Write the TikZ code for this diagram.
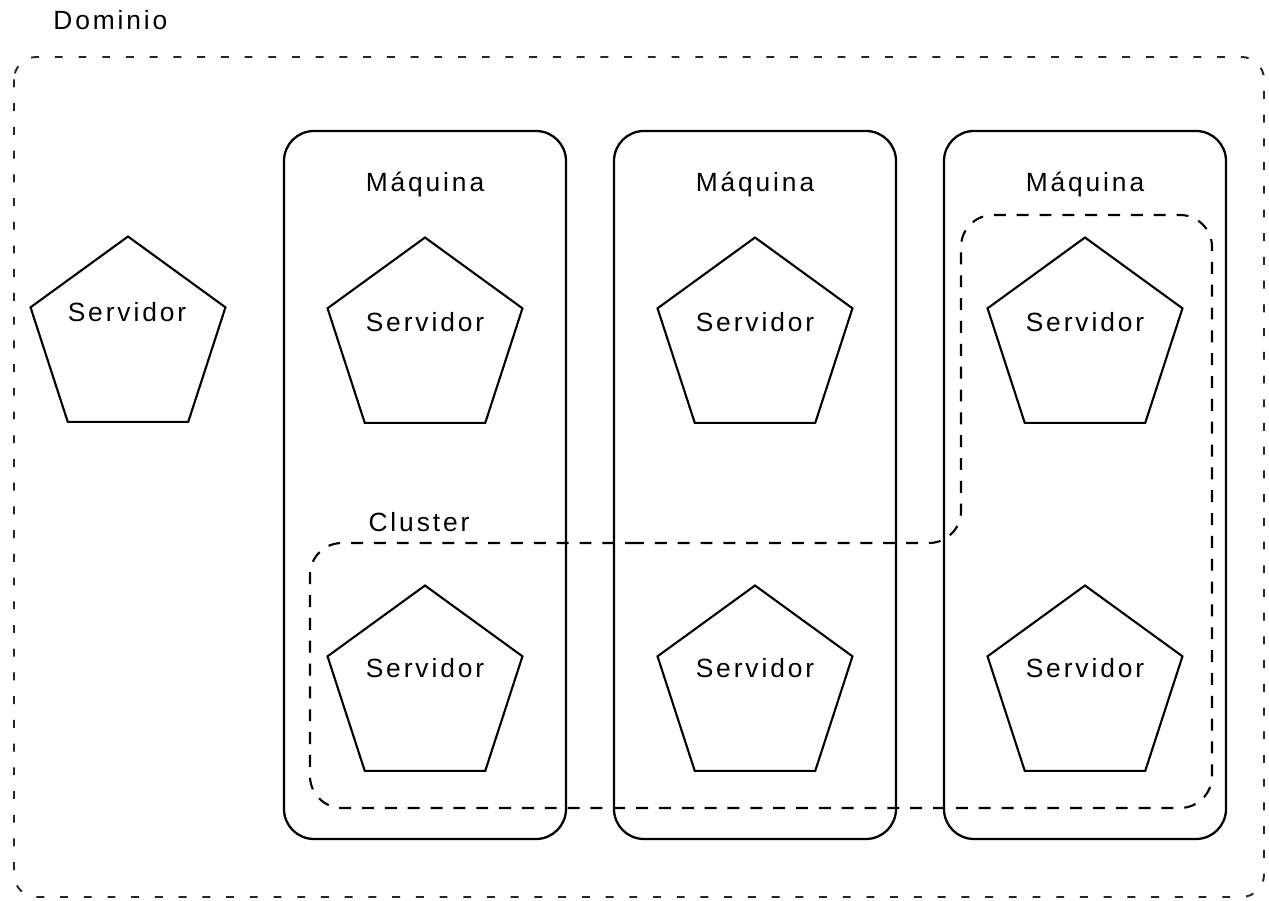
\documentclass[tikz,border=0pt]{standalone}
\usepackage{fontspec}
\setmainfont[LetterSpace=11]{Liberation Sans}
\usetikzlibrary{shapes.geometric}

\begin{document}
\begin{tikzpicture}[x=0.02cm, y=-0.02cm,
    servidor/.style={regular polygon, regular polygon sides=5, draw, line width=1.2pt, minimum size=4.1cm, inner sep=0pt},
    rotulo/.style={anchor=base, inner sep=0pt, font=\fontsize{15}{18}\selectfont},
    maquina/.style={line width=1.3pt, rounded corners=0.6cm},
    cluster/.style={line width=1.2pt, dash pattern=on 6.8pt off 6.2pt, rounded corners=0.64cm},
    dominio/.style={black!85, line width=1.1pt, dash pattern=on 4.5pt off 9pt, rounded corners=0.45cm}]
    \useasboundingbox (0,0) rectangle (1269,901);
    % Dominio
    \draw[dominio] (14,57) rectangle (1264,897);
    \node[rotulo, anchor=base west] (tdom) at (53,30) {Dominio};
    % Servidor suelto
    \node[servidor] (s0) at (128,339) {};
    \node[rotulo] (t0) at (127,322) {Servidor};
    % Maquinas
    \foreach \x/\n in {284/1,614/2,944/3} {
        \draw[maquina] (\x,131) rectangle ++(282,708);
        \node[rotulo] (m\n) at (\x+141,192) {Máquina};
        \node[servidor] (a\n) at (\x+141,340) {};
        \node[rotulo] (ta\n) at (\x+141,332) {Servidor};
        \node[servidor] (b\n) at (\x+141,688) {};
        \node[rotulo] (tb\n) at (\x+141,678) {Servidor};
    }
    % Cluster
    \draw[cluster] (600,543) -- (961,543) -- (961,215) -- (1212,215)
        -- (1212,808) -- (310,808) -- (310,543) -- cycle;
    \node[rotulo] (tcl) at (419,532) {Cluster};
\end{tikzpicture}
\end{document}
